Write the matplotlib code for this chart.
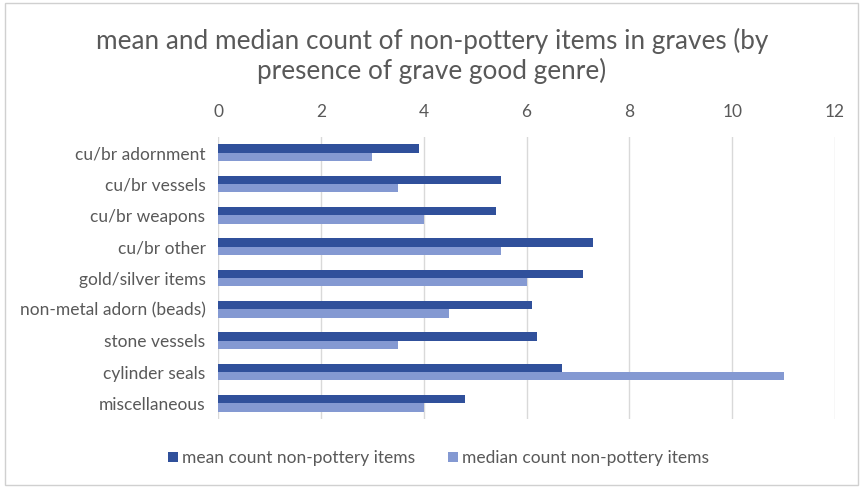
import matplotlib
matplotlib.use("Agg")
import matplotlib.pyplot as plt
import numpy as np
from matplotlib.patches import Rectangle

categories = [
    "cu/br adornment",
    "cu/br vessels",
    "cu/br weapons",
    "cu/br other",
    "gold/silver items",
    "non-metal adorn (beads)",
    "stone vessels",
    "cylinder seals",
    "miscellaneous",
]
mean_counts = [3.9, 5.5, 5.4, 7.3, 7.1, 6.1, 6.2, 6.7, 4.8]
median_counts = [3.0, 3.5, 4.0, 5.5, 6.0, 4.5, 3.5, 11.0, 4.0]
x_ticks = [0, 2, 4, 6, 8, 10, 12]

series_labels = ["mean count non-pottery items", "median count non-pottery items"]
dark_blue = "#30509b"
light_blue = "#8499d2"
text_gray = "#595959"
grid_gray = "#d9d9d9"

plt.rcParams["font.family"] = ["Lato", "DejaVu Sans"]

fig = plt.figure(figsize=(8.64, 4.87), dpi=100)
W, H = 864, 487
fig.patches.append(Rectangle((5 / W, 2 / H), 853 / W, 482 / H, transform=fig.transFigure,
                             fill=False, edgecolor="#d0d0d0", linewidth=1.0))

left, right, top, bottom = 218, 835, 137, 419
ax = fig.add_axes([left / W, 1 - bottom / H, (right - left) / W, (bottom - top) / H])

y = np.arange(len(categories))
h = 0.27
ax.barh(y - h / 2, mean_counts, height=h, color=dark_blue, label=series_labels[0], zorder=3)
ax.barh(y + h / 2, median_counts, height=h, color=light_blue, label=series_labels[1], zorder=3)

ax.set_xlim(0, 12)
ax.set_ylim(len(categories) - 0.5, -0.5)
ax.set_xticks(x_ticks)
ax.set_yticks(y)
ax.set_yticklabels(categories)
ax.xaxis.tick_top()
ax.grid(axis="x", color=grid_gray, linewidth=1.0, zorder=0)
for s in ax.spines.values():
    s.set_visible(False)
ax.tick_params(axis="both", length=0, colors=text_gray, labelsize=12.5)
ax.tick_params(axis="x", pad=12)
ax.tick_params(axis="y", pad=9)

fig.text(0.5, 1 - 56 / H, "mean and median count of non-pottery items in graves (by\npresence of grave good genre)",
         ha="center", va="center", fontsize=18.8, color=text_gray, linespacing=1.15)

fig.legend(loc="center", bbox_to_anchor=(0.508, 1 - 458 / H), ncol=2, frameon=False,
           fontsize=12.5, labelcolor=text_gray, handlelength=0.55, handleheight=0.55,
           handletextpad=0.25, columnspacing=1.9)

fig.savefig("out.png", dpi=100, facecolor="white")
